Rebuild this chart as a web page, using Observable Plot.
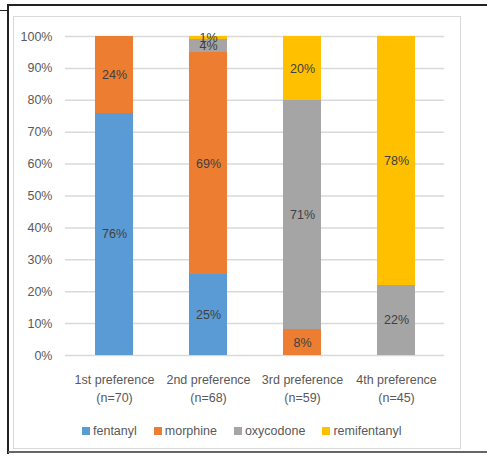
<!DOCTYPE html>
<html>
<head>
<meta charset="utf-8">
<script src="https://cdn.jsdelivr.net/npm/d3@7"></script>
<script src="https://cdn.jsdelivr.net/npm/@observablehq/plot@0.6"></script>
<style>
  html, body { margin: 0; padding: 0; background: #fff; }
  #wrap { position: relative; width: 487px; height: 459px; overflow: hidden; font-family: "Liberation Sans", Arial, sans-serif; }
  .ln { position: absolute; }
  #chart { position: absolute; left: 0; top: 0; }
  #legend { position: absolute; top: 424px; left: 82px; display: flex; gap: 17px; font-size: 12.5px; color: #595959; }
  .item { display: flex; align-items: center; gap: 3px; }
  .sw { width: 8px; height: 8px; display: inline-block; }
</style>
</head>
<body>
<div id="wrap">
  <div class="ln" style="left:0;top:10px;width:8px;height:1px;background:#222"></div>
  <div class="ln" style="left:8px;top:4px;width:479px;height:2px;background:#222"></div>
  <div class="ln" style="left:7px;top:4px;width:2px;height:450px;background:#222"></div>
  <div class="ln" style="left:8px;top:451px;width:479px;height:2px;background:#666"></div>
  <div class="ln" style="left:13px;top:16px;width:446px;height:431px;border:1px solid #d9d9d9"></div>
  <div id="chart"></div>
  <div id="legend"></div>
</div>
<script>
const prefs = ["1st preference", "2nd preference", "3rd preference", "4th preference"];
const ns = [70, 68, 59, 45];
const drugs = ["fentanyl", "morphine", "oxycodone", "remifentanyl"];
const colors = ["#5B9BD5", "#ED7D31", "#A5A5A5", "#FFC000"];
const fentanyl = [76, 25, 0, 0];
const morphine = [24, 69, 8, 0];
const oxycodone = [0, 4, 71, 22];
const remifentanyl = [0, 1, 20, 78];
const yTicks = [0, 0.1, 0.2, 0.3, 0.4, 0.5, 0.6, 0.7, 0.8, 0.9, 1];

const series = [fentanyl, morphine, oxycodone, remifentanyl];
const labels = prefs.map((p, i) => `${p}\n(n=${ns[i]})`);
const rows = [];
drugs.forEach((drug, k) => {
  series[k].forEach((v, i) => {
    if (v > 0) rows.push({pref: labels[i], drug, value: v});
  });
});

const stackOpts = {x: "pref", y: "value", z: "drug", offset: "normalize"};

const plot = Plot.plot({
  width: 487,
  height: 410,
  marginLeft: 65,
  marginRight: 43,
  marginTop: 36,
  marginBottom: 55,
  style: {fontFamily: "Liberation Sans, Arial, sans-serif", fontSize: "12.5px", color: "#595959", background: "transparent"},
  x: {domain: labels, paddingInner: 0.6, paddingOuter: 0.3, label: null},
  y: {domain: [0, 1], label: null},
  color: {domain: drugs, range: colors},
  marks: [
    Plot.ruleY(yTicks, {stroke: "#d9d9d9", strokeWidth: 1.5}),
    Plot.barY(rows, Plot.stackY({...stackOpts, fill: "drug", shapeRendering: "crispEdges"})),
    Plot.text(rows, Plot.stackY({...stackOpts, text: d => d.value + "%", fill: "#404040", fontSize: 12.5})),
    Plot.axisY({ticks: yTicks, tickFormat: d => Math.round(d * 100) + "%", tickSize: 0, tickPadding: 13, label: null, fontSize: 12.5}),
    Plot.axisX({tickSize: 0, tickPadding: 16, lineHeight: 1.45, label: null, fontSize: 12.5})
  ]
});
document.getElementById("chart").appendChild(plot);

const legend = document.getElementById("legend");
drugs.forEach((d, i) => {
  const it = document.createElement("div");
  it.className = "item";
  it.innerHTML = `<span class="sw" style="background:${colors[i]}"></span><span>${d}</span>`;
  legend.appendChild(it);
});
</script>
</body>
</html>
